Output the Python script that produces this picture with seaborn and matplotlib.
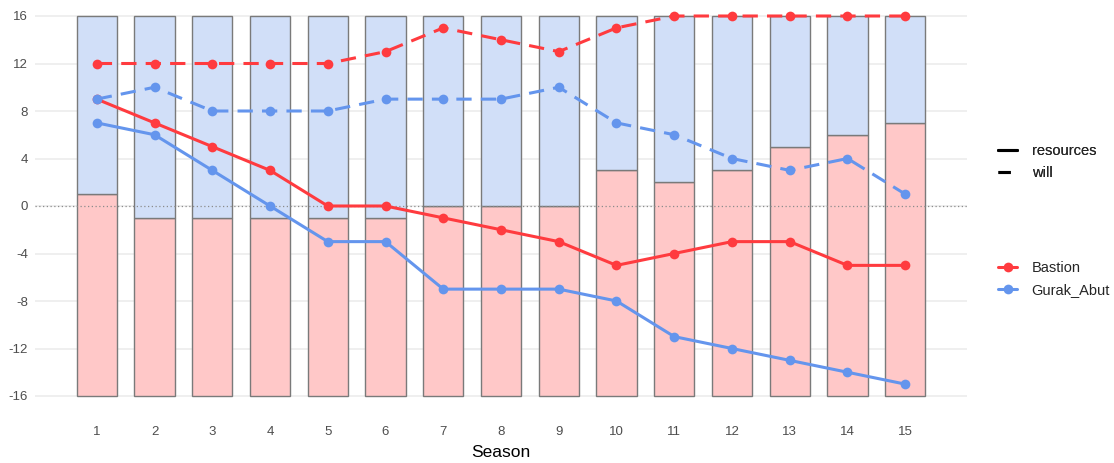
import seaborn as sns
import matplotlib.pyplot as plt
import pandas as pd
from matplotlib.lines import Line2D

# Valores
seasons = list(range(1, 16))
split = [1, -1, -1, -1, -1, -1, 0, 0, 0, 3, 2, 3, 5, 6, 7]
bastion_resources = [9, 7, 5, 3, 0, 0, -1, -2, -3, -5, -4, -3, -3, -5, -5]
bastion_will = [12, 12, 12, 12, 12, 13, 15, 14, 13, 15, 16, 16, 16, 16, 16]
gurak_resources = [7, 6, 3, 0, -3, -3, -7, -7, -7, -8, -11, -12, -13, -14, -15]
gurak_will = [9, 10, 8, 8, 8, 9, 9, 9, 10, 7, 6, 4, 3, 4, 1]
y_ticks = [-16, -12, -8, -4, 0, 4, 8, 12, 16]

red = "#FF3B3F"
blue = "#6495ED"

# tabela longa para as linhas
linhas = pd.concat([
    pd.DataFrame({"Season": seasons, "value": bastion_resources, "team": "Bastion", "measure": "resources"}),
    pd.DataFrame({"Season": seasons, "value": bastion_will, "team": "Bastion", "measure": "will"}),
    pd.DataFrame({"Season": seasons, "value": gurak_resources, "team": "Gurak_Abut", "measure": "resources"}),
    pd.DataFrame({"Season": seasons, "value": gurak_will, "team": "Gurak_Abut", "measure": "will"}),
])

barras = pd.DataFrame({"Season": seasons, "split": split})
barras["low"] = barras["split"] + 16
barras["high"] = 16 - barras["split"]

sns.set_theme(style="white")
plt.rcParams["font.family"] = ["Liberation Sans", "DejaVu Sans"]
plt.rcParams["axes.unicode_minus"] = False

fig = plt.figure(figsize=(11.14, 4.63), dpi=100)
ax = fig.add_axes([35 / 1114, 48 / 463, (967 - 35) / 1114, 418 / 463])

for y in y_ticks:
    ax.axhline(y, color="#EBEBEB", lw=1.1, zorder=0)

# barras: parte vermelha de -16 até split, azul de split até 16
sns.barplot(data=barras, x="Season", y="low", bottom=-16, native_scale=True, width=0.7,
            color="#FFC8C8", saturation=1, edgecolor="#7A7A7A", linewidth=1, ax=ax, zorder=1)
sns.barplot(data=barras, x="Season", y="high", bottom=barras["split"].values, native_scale=True,
            width=0.7, color="#D1DFF8", saturation=1, edgecolor="#7A7A7A", linewidth=1, ax=ax, zorder=1)

ax.axhline(0, color="#8C8C8C", lw=0.9, ls=(0, (1, 2)), zorder=2)

sns.lineplot(data=linhas, x="Season", y="value", hue="team", style="measure",
             palette={"Bastion": red, "Gurak_Abut": blue},
             dashes={"resources": "", "will": (5, 3)},
             markers={"resources": "o", "will": "o"},
             markersize=7, markeredgewidth=0, linewidth=2.2, legend=False, ax=ax, zorder=3)

ax.set_xlim(-0.07, 16.07)
ax.set_ylim(-17.6, 17.6)
ax.set_xticks(seasons)
ax.set_xticklabels([str(s) for s in seasons])
ax.set_yticks(y_ticks)
ax.tick_params(axis="both", colors="#4D4D4D", labelsize=9.5, length=0, pad=5)
ax.tick_params(axis="x", pad=8)
ax.set_xlabel("Season", fontsize=12.5, color="black", labelpad=5)
ax.set_ylabel("")
for s in ax.spines.values():
    s.set_visible(False)

h1 = [Line2D([], [], color="black", lw=2.2, ls="-"),
      Line2D([], [], color="black", lw=2.2, ls=(0, (4, 2.5)))]
leg1 = fig.legend(h1, ["resources", "will"], loc="center left", bbox_to_anchor=(985 / 1114, 1 - 162 / 463),
                  frameon=False, fontsize=10.5, handlelength=1.3, handletextpad=1.0, labelspacing=0.5)
fig.add_artist(leg1)
h2 = [Line2D([], [], color=red, lw=2.2, marker="o", markersize=7, markeredgewidth=0),
      Line2D([], [], color=blue, lw=2.2, marker="o", markersize=7, markeredgewidth=0)]
fig.legend(h2, ["Bastion", "Gurak_Abut"], loc="center left", bbox_to_anchor=(985 / 1114, 1 - 279 / 463),
           frameon=False, fontsize=10.5, handlelength=1.3, handletextpad=1.0, labelspacing=0.5)

plt.savefig("out.png", dpi=100)
plt.close()
